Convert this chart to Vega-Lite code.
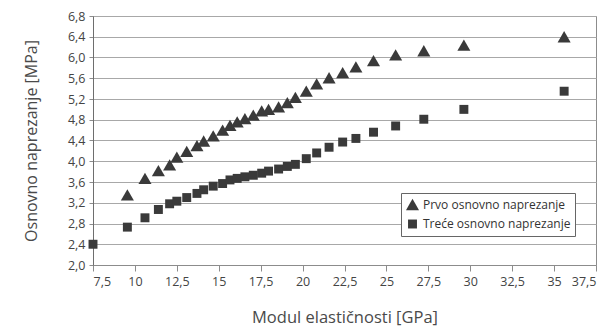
{
  "$schema": "https://vega.github.io/schema/vega-lite/v6.json",
  "autosize": "none",
  "width": 503,
  "height": 249,
  "padding": {"left": 93, "top": 16, "right": 20, "bottom": 65},
  "background": "white",
  "config": {
    "font": "Open Sans",
    "view": {"stroke": "#8c8c8c", "strokeWidth": 1}
  },
  "data": {
    "values": [
      {"E": 7.5, "s": 2.40, "serija": "Treće osnovno naprezanje"},
      {"E": 9.55, "s": 3.35, "serija": "Prvo osnovno naprezanje"},
      {"E": 9.55, "s": 2.73, "serija": "Treće osnovno naprezanje"},
      {"E": 10.6, "s": 3.67, "serija": "Prvo osnovno naprezanje"},
      {"E": 10.6, "s": 2.91, "serija": "Treće osnovno naprezanje"},
      {"E": 11.4, "s": 3.82, "serija": "Prvo osnovno naprezanje"},
      {"E": 11.4, "s": 3.07, "serija": "Treće osnovno naprezanje"},
      {"E": 12.07, "s": 3.93, "serija": "Prvo osnovno naprezanje"},
      {"E": 12.07, "s": 3.18, "serija": "Treće osnovno naprezanje"},
      {"E": 12.5, "s": 4.08, "serija": "Prvo osnovno naprezanje"},
      {"E": 12.5, "s": 3.23, "serija": "Treće osnovno naprezanje"},
      {"E": 13.09, "s": 4.19, "serija": "Prvo osnovno naprezanje"},
      {"E": 13.09, "s": 3.30, "serija": "Treće osnovno naprezanje"},
      {"E": 13.7, "s": 4.30, "serija": "Prvo osnovno naprezanje"},
      {"E": 13.7, "s": 3.38, "serija": "Treće osnovno naprezanje"},
      {"E": 14.1, "s": 4.39, "serija": "Prvo osnovno naprezanje"},
      {"E": 14.1, "s": 3.45, "serija": "Treće osnovno naprezanje"},
      {"E": 14.67, "s": 4.49, "serija": "Prvo osnovno naprezanje"},
      {"E": 14.67, "s": 3.52, "serija": "Treće osnovno naprezanje"},
      {"E": 15.23, "s": 4.60, "serija": "Prvo osnovno naprezanje"},
      {"E": 15.23, "s": 3.57, "serija": "Treće osnovno naprezanje"},
      {"E": 15.67, "s": 4.69, "serija": "Prvo osnovno naprezanje"},
      {"E": 15.67, "s": 3.64, "serija": "Treće osnovno naprezanje"},
      {"E": 16.1, "s": 4.76, "serija": "Prvo osnovno naprezanje"},
      {"E": 16.1, "s": 3.67, "serija": "Treće osnovno naprezanje"},
      {"E": 16.56, "s": 4.82, "serija": "Prvo osnovno naprezanje"},
      {"E": 16.56, "s": 3.70, "serija": "Treće osnovno naprezanje"},
      {"E": 17.06, "s": 4.89, "serija": "Prvo osnovno naprezanje"},
      {"E": 17.06, "s": 3.73, "serija": "Treće osnovno naprezanje"},
      {"E": 17.56, "s": 4.97, "serija": "Prvo osnovno naprezanje"},
      {"E": 17.56, "s": 3.77, "serija": "Treće osnovno naprezanje"},
      {"E": 17.97, "s": 5.00, "serija": "Prvo osnovno naprezanje"},
      {"E": 17.97, "s": 3.81, "serija": "Treće osnovno naprezanje"},
      {"E": 18.57, "s": 5.05, "serija": "Prvo osnovno naprezanje"},
      {"E": 18.57, "s": 3.85, "serija": "Treće osnovno naprezanje"},
      {"E": 19.09, "s": 5.13, "serija": "Prvo osnovno naprezanje"},
      {"E": 19.09, "s": 3.90, "serija": "Treće osnovno naprezanje"},
      {"E": 19.57, "s": 5.23, "serija": "Prvo osnovno naprezanje"},
      {"E": 19.57, "s": 3.94, "serija": "Treće osnovno naprezanje"},
      {"E": 20.22, "s": 5.35, "serija": "Prvo osnovno naprezanje"},
      {"E": 20.22, "s": 4.05, "serija": "Treće osnovno naprezanje"},
      {"E": 20.84, "s": 5.49, "serija": "Prvo osnovno naprezanje"},
      {"E": 20.84, "s": 4.16, "serija": "Treće osnovno naprezanje"},
      {"E": 21.58, "s": 5.61, "serija": "Prvo osnovno naprezanje"},
      {"E": 21.58, "s": 4.27, "serija": "Treće osnovno naprezanje"},
      {"E": 22.39, "s": 5.71, "serija": "Prvo osnovno naprezanje"},
      {"E": 22.39, "s": 4.37, "serija": "Treće osnovno naprezanje"},
      {"E": 23.18, "s": 5.82, "serija": "Prvo osnovno naprezanje"},
      {"E": 23.18, "s": 4.44, "serija": "Treće osnovno naprezanje"},
      {"E": 24.23, "s": 5.94, "serija": "Prvo osnovno naprezanje"},
      {"E": 24.23, "s": 4.56, "serija": "Treće osnovno naprezanje"},
      {"E": 25.55, "s": 6.05, "serija": "Prvo osnovno naprezanje"},
      {"E": 25.55, "s": 4.68, "serija": "Treće osnovno naprezanje"},
      {"E": 27.23, "s": 6.13, "serija": "Prvo osnovno naprezanje"},
      {"E": 27.23, "s": 4.81, "serija": "Treće osnovno naprezanje"},
      {"E": 29.62, "s": 6.24, "serija": "Prvo osnovno naprezanje"},
      {"E": 29.62, "s": 5.00, "serija": "Treće osnovno naprezanje"},
      {"E": 35.6, "s": 6.40, "serija": "Prvo osnovno naprezanje"},
      {"E": 35.6, "s": 5.35, "serija": "Treće osnovno naprezanje"}
    ]
  },
  "mark": {"type": "point", "filled": true, "opacity": 1, "color": "#3a3a3a"},
  "encoding": {
    "x": {
      "field": "E",
      "type": "quantitative",
      "scale": {"domain": [7.5, 37.5], "nice": false, "zero": false},
      "axis": {
        "title": "Modul elastičnosti [GPa]",
        "titleFont": "Open Sans",
        "titleFontSize": 16.5,
        "titleFontWeight": "normal",
        "titleColor": "#4a4a4a",
        "titlePadding": 22,
        "values": [7.5, 10, 12.5, 15, 17.5, 20, 22.5, 25, 27.5, 30, 32.5, 35, 37.5],
        "labelExpr": "replace(format(datum.value, '~g'), '.', ',')",
        "labelFontSize": 12.5,
        "labelColor": "#444444",
        "labelPadding": 4,
        "grid": false,
        "domainColor": "#8c8c8c",
        "tickColor": "#8c8c8c",
        "tickSize": 6
      }
    },
    "y": {
      "field": "s",
      "type": "quantitative",
      "scale": {"domain": [2.0, 6.8], "nice": false, "zero": false},
      "axis": {
        "title": "Osnovno naprezanje [MPa]",
        "titleFont": "Open Sans",
        "titleFontSize": 16,
        "titleFontWeight": "normal",
        "titleColor": "#4a4a4a",
        "titlePadding": 28,
        "values": [2.0, 2.4, 2.8, 3.2, 3.6, 4.0, 4.4, 4.8, 5.2, 5.6, 6.0, 6.4, 6.8],
        "labelExpr": "replace(format(datum.value, '.1f'), '.', ',')",
        "labelFontSize": 12.5,
        "labelColor": "#444444",
        "labelPadding": 4,
        "grid": true,
        "gridColor": "#a8a8a8",
        "gridWidth": 1,
        "domainColor": "#6e6e6e",
        "tickColor": "#8c8c8c",
        "tickSize": 4
      }
    },
    "shape": {
      "field": "serija",
      "type": "nominal",
      "scale": {
        "domain": ["Prvo osnovno naprezanje", "Treće osnovno naprezanje"],
        "range": ["triangle-up", "square"]
      },
      "legend": {
        "title": null,
        "orient": "none",
        "legendX": 308,
        "legendY": 177,
        "fillColor": "white",
        "strokeColor": "#666666",
        "padding": 4,
        "labelFontSize": 12,
        "labelColor": "#333333",
        "labelFont": "Open Sans",
        "symbolFillColor": "#3a3a3a",
        "symbolStrokeColor": "#3a3a3a",
        "rowPadding": 2,
        "labelOffset": 3
      }
    },
    "size": {
      "field": "serija",
      "type": "nominal",
      "scale": {
        "domain": ["Prvo osnovno naprezanje", "Treće osnovno naprezanje"],
        "range": [170, 80]
      }
    }
  }
}
